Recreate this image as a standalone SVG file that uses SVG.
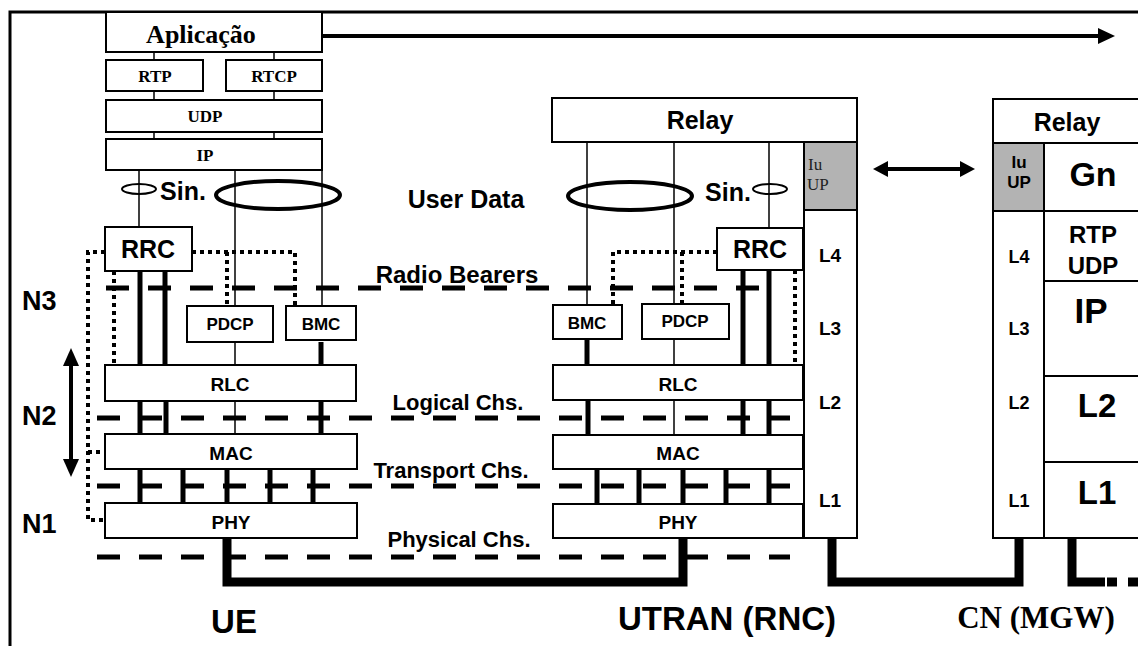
<svg xmlns="http://www.w3.org/2000/svg" width="1138" height="646" viewBox="0 0 1138 646">
<style>
.box{fill:#fff;stroke:#000;stroke-width:2}
.gray{fill:#b3b3b3;stroke:#000;stroke-width:2}
.thin{stroke:#000;stroke-width:1.5;fill:none}
.thick{stroke:#000;stroke-width:5;fill:none}
.dot{stroke:#000;stroke-width:4;stroke-dasharray:4 4;fill:none}
.dash{stroke:#000;stroke-width:5;stroke-dasharray:23 19;fill:none}
.link{stroke:#000;stroke-width:9;fill:none}
.ell{stroke:#000;stroke-width:4;fill:none}
.ells{stroke:#000;stroke-width:2;fill:none}
.s{font-family:"Liberation Sans",Arial,sans-serif;font-weight:bold;fill:#000;text-anchor:middle}
.r{font-family:"Liberation Serif","Times New Roman",serif;font-weight:bold;fill:#000;text-anchor:middle}
</style>
<rect x="0" y="0" width="1138" height="646" fill="#fff"/>
<!-- frame -->
<path d="M10,646 V12 H1138" stroke="#000" stroke-width="3" fill="none"/>

<g id="connectors">
  <!-- top arrow -->
  <line x1="322" y1="36" x2="1100" y2="36" stroke="#000" stroke-width="4"/>
  <polygon points="1098,28 1115,36 1098,44" fill="#000"/>
  <!-- double arrow UTRAN-CN -->
  <line x1="885" y1="169" x2="963" y2="169" stroke="#000" stroke-width="4"/>
  <polygon points="873,169 888,161 888,177" fill="#000"/>
  <polygon points="975,169 960,161 960,177" fill="#000"/>
  <!-- vertical N arrow -->
  <line x1="71" y1="362" x2="71" y2="463" stroke="#000" stroke-width="4"/>
  <polygon points="71,348 63,366 79,366" fill="#000"/>
  <polygon points="71,477 63,459 79,459" fill="#000"/>

  <!-- UE app stack lines -->
  <line class="thin" x1="154" y1="52" x2="154" y2="60"/>
  <line class="thin" x1="274" y1="52" x2="274" y2="60"/>
  <line class="thin" x1="154" y1="91" x2="154" y2="100"/>
  <line class="thin" x1="274" y1="91" x2="274" y2="100"/>
  <line class="thin" x1="154" y1="132" x2="154" y2="139"/>
  <line class="thin" x1="274" y1="132" x2="274" y2="139"/>
  <line class="thin" x1="139" y1="170" x2="139" y2="227"/>
  <line class="thin" x1="235" y1="170" x2="235" y2="306"/>
  <line class="thin" x1="322" y1="170" x2="322" y2="306"/>
  <!-- UE RRC/PDCP/BMC to RLC -->
  <line class="thick" x1="140" y1="271" x2="140" y2="365"/>
  <line class="thick" x1="165" y1="271" x2="165" y2="365"/>
  <line class="thin" x1="235" y1="342" x2="235" y2="365"/>
  <line class="thick" x1="321" y1="342" x2="321" y2="365"/>
  <!-- UE RLC-MAC -->
  <line class="thick" x1="140" y1="401" x2="140" y2="434"/>
  <line class="thick" x1="166" y1="401" x2="166" y2="434"/>
  <line class="thin" x1="235" y1="401" x2="235" y2="434"/>
  <line class="thick" x1="321" y1="401" x2="321" y2="434"/>
  <!-- UE MAC-PHY -->
  <line class="thick" x1="140" y1="469" x2="140" y2="503"/>
  <line class="thick" x1="183" y1="469" x2="183" y2="503"/>
  <line class="thick" x1="227" y1="469" x2="227" y2="503"/>
  <line class="thick" x1="270" y1="469" x2="270" y2="503"/>
  <line class="thick" x1="313" y1="469" x2="313" y2="503"/>
  <!-- UE dotted control -->
  <path class="dot" d="M105,252 H88 V520 H105"/>
  <path class="dot" d="M88,452 H105"/>
  <path class="dot" d="M192,252 H295 V306"/>
  <path class="dot" d="M227,252 V306"/>
  <path class="dot" d="M114,271 V365"/>

  <!-- UTRAN relay lines -->
  <line class="thin" x1="587" y1="142" x2="587" y2="305"/>
  <line class="thin" x1="674" y1="142" x2="674" y2="304"/>
  <line class="thin" x1="769" y1="142" x2="769" y2="228"/>
  <!-- UTRAN to RLC -->
  <line class="thick" x1="587" y1="339" x2="587" y2="365"/>
  <line class="thin" x1="674" y1="339" x2="674" y2="365"/>
  <line class="thick" x1="743" y1="270" x2="743" y2="365"/>
  <line class="thick" x1="769" y1="270" x2="769" y2="365"/>
  <!-- UTRAN RLC-MAC -->
  <line class="thick" x1="588" y1="400" x2="588" y2="435"/>
  <line class="thin" x1="674" y1="400" x2="674" y2="435"/>
  <line class="thick" x1="743" y1="400" x2="743" y2="435"/>
  <line class="thick" x1="769" y1="400" x2="769" y2="435"/>
  <!-- UTRAN MAC-PHY -->
  <line class="thick" x1="597" y1="469" x2="597" y2="504"/>
  <line class="thick" x1="639" y1="469" x2="639" y2="504"/>
  <line class="thick" x1="683" y1="469" x2="683" y2="504"/>
  <line class="thick" x1="726" y1="469" x2="726" y2="504"/>
  <line class="thick" x1="769" y1="469" x2="769" y2="504"/>
  <!-- UTRAN dotted -->
  <path class="dot" d="M717,252 H613 V305"/>
  <path class="dot" d="M682,252 V304"/>
  <path class="dot" d="M795,270 V365"/>

  <!-- dashed channel lines -->
  <line class="dash" x1="106" y1="288" x2="760" y2="288"/>
  <line class="dash" x1="97" y1="418" x2="790" y2="418"/>
  <line class="dash" x1="97" y1="486" x2="790" y2="486"/>
  <line class="dash" x1="97" y1="557" x2="790" y2="557"/>

  <!-- physical links -->
  <path class="link" d="M227,538 V582 H683 V538"/>
  <path class="link" d="M832,538 V582 H1019 V538"/>
  <path class="link" d="M1072,538 V582 H1105"/>
  <line class="link" x1="1107" y1="582" x2="1117" y2="582"/>
  <line class="link" x1="1128" y1="582" x2="1138" y2="582"/>

  <!-- ellipses -->
  <ellipse class="ells" cx="139" cy="189" rx="17" ry="5"/>
  <ellipse class="ell" cx="278" cy="195" rx="62" ry="14"/>
  <ellipse class="ell" cx="630" cy="196" rx="62" ry="14"/>
  <ellipse class="ells" cx="770" cy="189" rx="17" ry="5"/>
</g>

<!-- UE stack -->
<g id="ue-aplicacao"><rect class="box" x="106" y="12" width="216" height="40"/><text class="r" x="201" y="43" font-size="26">Aplicação</text></g>
<g id="ue-rtp"><rect class="box" x="106" y="60" width="97" height="31"/><text class="r" x="155" y="82" font-size="17">RTP</text></g>
<g id="ue-rtcp"><rect class="box" x="226" y="60" width="96" height="31"/><text class="r" x="274" y="82" font-size="17">RTCP</text></g>
<g id="ue-udp"><rect class="box" x="106" y="100" width="216" height="32"/><text class="r" x="205" y="122" font-size="17">UDP</text></g>
<g id="ue-ip"><rect class="box" x="106" y="139" width="216" height="31"/><text class="r" x="205" y="161" font-size="17">IP</text></g>
<g id="ue-rrc"><rect class="box" x="105" y="227" width="87" height="44"/><text class="s" x="148" y="258" font-size="25">RRC</text></g>
<g id="ue-pdcp"><rect class="box" x="187" y="306" width="86" height="36"/><text class="s" x="230" y="330" font-size="17">PDCP</text></g>
<g id="ue-bmc"><rect class="box" x="286" y="306" width="70" height="34"/><text class="s" x="321" y="330" font-size="17">BMC</text></g>
<g id="ue-rlc"><rect class="box" x="105" y="365" width="251" height="36"/><text class="s" x="230" y="391" font-size="19">RLC</text></g>
<g id="ue-mac"><rect class="box" x="105" y="434" width="252" height="35"/><text class="s" x="231" y="460" font-size="19">MAC</text></g>
<g id="ue-phy"><rect class="box" x="105" y="503" width="252" height="35"/><text class="s" x="231" y="529" font-size="19">PHY</text></g>

<!-- UTRAN stack -->
<g id="utran-relay"><rect class="box" x="552" y="98" width="305" height="44"/><text class="s" x="700" y="129" font-size="25">Relay</text></g>
<g id="utran-iuup"><rect class="gray" x="804" y="142" width="53" height="68"/><text x="808" y="170" font-family="Liberation Serif,serif" font-size="17" fill="#222">Iu</text><text x="807" y="190" font-family="Liberation Serif,serif" font-size="17" fill="#222">UP</text></g>
<g id="utran-layers"><rect class="box" x="804" y="210" width="53" height="328"/>
<text class="s" x="830" y="262" font-size="19">L4</text><text class="s" x="830" y="335" font-size="19">L3</text><text class="s" x="830" y="409" font-size="19">L2</text><text class="s" x="830" y="507" font-size="19">L1</text></g>
<g id="utran-rrc"><rect class="box" x="717" y="228" width="86" height="42"/><text class="s" x="760" y="258" font-size="25">RRC</text></g>
<g id="utran-bmc"><rect class="box" x="553" y="305" width="69" height="34"/><text class="s" x="587" y="329" font-size="17">BMC</text></g>
<g id="utran-pdcp"><rect class="box" x="642" y="304" width="87" height="35"/><text class="s" x="685" y="327" font-size="17">PDCP</text></g>
<g id="utran-rlc"><rect class="box" x="553" y="365" width="250" height="35"/><text class="s" x="678" y="391" font-size="19">RLC</text></g>
<g id="utran-mac"><rect class="box" x="553" y="435" width="250" height="34"/><text class="s" x="678" y="460" font-size="19">MAC</text></g>
<g id="utran-phy"><rect class="box" x="553" y="504" width="250" height="34"/><text class="s" x="678" y="529" font-size="19">PHY</text></g>

<!-- CN stack -->
<g id="cn-relay"><rect class="box" x="993" y="99" width="150" height="44"/><text class="s" x="1067" y="131" font-size="25">Relay</text></g>
<g id="cn-iuup"><rect class="gray" x="993" y="143" width="51" height="68"/><text class="s" x="1019" y="168" font-size="17">Iu</text><text class="s" x="1019" y="188" font-size="17">UP</text></g>
<g id="cn-gn"><rect class="box" x="1044" y="143" width="99" height="68"/><text class="s" x="1093" y="186" font-size="34">Gn</text></g>
<g id="cn-layers"><rect class="box" x="993" y="211" width="51" height="327"/>
<text class="s" x="1019" y="263" font-size="18">L4</text><text class="s" x="1019" y="335" font-size="18">L3</text><text class="s" x="1019" y="409" font-size="18">L2</text><text class="s" x="1019" y="507" font-size="18">L1</text></g>
<g id="cn-rtpudp"><rect class="box" x="1044" y="211" width="99" height="70"/><text class="s" x="1093" y="243" font-size="24">RTP</text><text class="s" x="1093" y="274" font-size="24">UDP</text></g>
<g id="cn-ip"><rect class="box" x="1044" y="281" width="99" height="95"/><text class="s" x="1091" y="323" font-size="35">IP</text></g>
<g id="cn-l2"><rect class="box" x="1044" y="376" width="99" height="86"/><text class="s" x="1097" y="417" font-size="33">L2</text></g>
<g id="cn-l1"><rect class="box" x="1044" y="462" width="99" height="76"/><text class="s" x="1097" y="504" font-size="33">L1</text></g>

<!-- labels -->
<g id="labels">
<text class="s" x="183" y="200" font-size="25">Sin.</text>
<text class="s" x="728" y="201" font-size="25">Sin.</text>
<text class="s" x="466" y="208" font-size="25">User Data</text>
<text class="s" x="457" y="283" font-size="24">Radio Bearers</text>
<text class="s" x="458" y="410" font-size="22">Logical Chs.</text>
<text class="s" x="451" y="478" font-size="22">Transport Chs.</text>
<text class="s" x="459" y="547" font-size="22">Physical Chs.</text>
<text x="22" y="310" font-family="Liberation Sans,sans-serif" font-weight="bold" font-size="27">N3</text>
<text x="22" y="425" font-family="Liberation Sans,sans-serif" font-weight="bold" font-size="27">N2</text>
<text x="22" y="533" font-family="Liberation Sans,sans-serif" font-weight="bold" font-size="27">N1</text>
<text class="s" x="234" y="633" font-size="33">UE</text>
<text class="s" x="727" y="630" font-size="33">UTRAN (RNC)</text>
<text class="r" x="1036" y="628" font-size="31">CN (MGW)</text>
</g>
</svg>
